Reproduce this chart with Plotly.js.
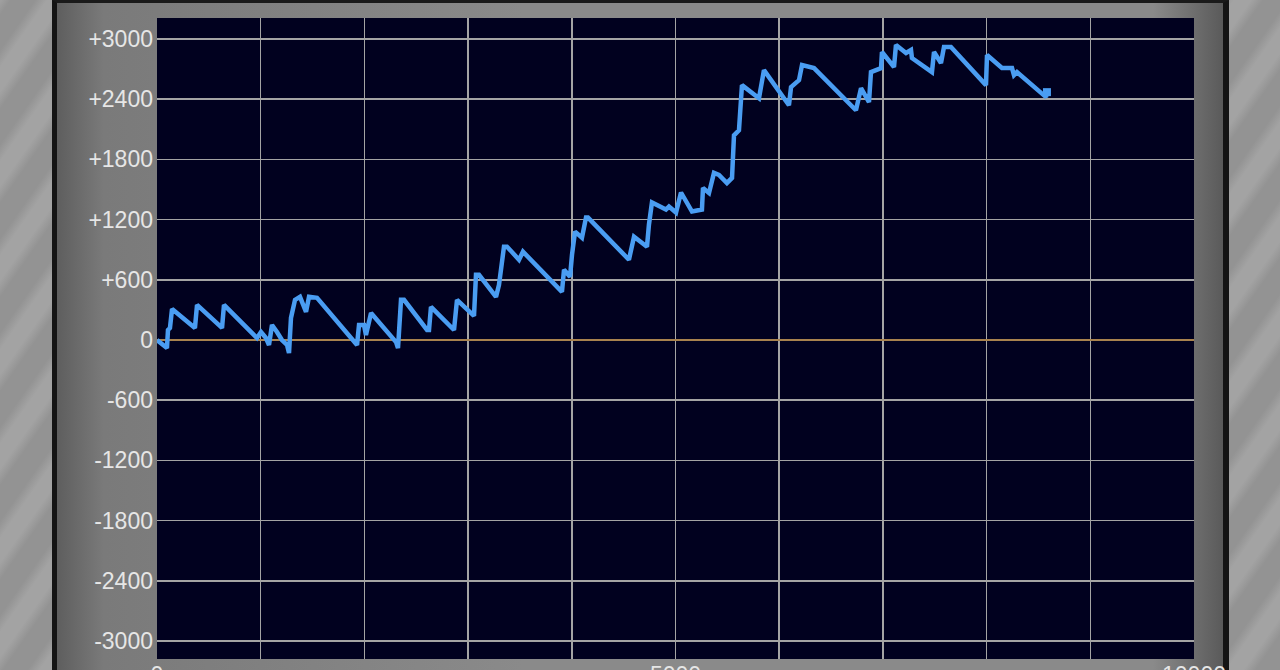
<!DOCTYPE html>
<html>
<head>
<meta charset="utf-8">
<script src="https://cdn.plot.ly/plotly-3.0.1.min.js"></script>
<style>
  html, body { margin:0; padding:0; width:1280px; height:670px; overflow:hidden; }
  body {
    background: repeating-linear-gradient(-55deg, #939393 0px, #939393 20px, #a3a3a3 30px, #a3a3a3 44px, #939393 54px);
    position: relative;
  }
  #panel {
    position:absolute; left:52px; top:0; width:1166px; height:700px;
    border-left:5px solid #141414; border-right:6px solid #141414; border-top:3px solid #1a1a1a;
    background: linear-gradient(to right, #5e5e5e 0%, #7a7a7a 4%, #8a8a8a 40%, #8a8a8a 94%, #5a5a5a 100%);
  }
  #chart { position:absolute; left:0; top:0; width:1280px; height:670px; }
</style>
</head>
<body>
<div id="panel"></div>
<div id="chart"></div>
<script>
// games played (x) vs. medal difference (y)
const games = [0, 96, 106, 125, 145, 366, 386, 627, 646, 964, 1003, 1051, 1080, 1109, 1157, 1205, 1254, 1273, 1292, 1331, 1379, 1437, 1466, 1543,
  1929, 1948, 1996, 2015, 2064, 2305, 2324, 2353, 2382, 2604, 2623, 2642, 2864, 2893, 3057, 3076, 3105, 3269, 3298, 3317, 3346, 3375, 3491, 3529,
  3905, 3925, 3983, 4002, 4031, 4098, 4137, 4156, 4551, 4600, 4725, 4744, 4773, 4908, 4937, 5005, 5053, 5159, 5255, 5265,
  5323, 5371, 5419, 5496, 5545, 5564, 5612, 5641, 5805, 5853, 6094, 6114, 6191, 6220, 6336, 6740, 6789, 6866, 6885, 6982, 6991,
  7107, 7126, 7223, 7271, 7280, 7473, 7493, 7560, 7589, 7656, 7994, 8004, 8148, 8245, 8264, 8293, 8573, 8582];
const diff = [0, -80, 100, 120, 310, 120, 350, 120, 350, 20, 80, 20, -50, 150, 80, 0, -50, -130, 220, 400, 430, 280, 430, 420,
  -50, 150, 150, 50, 270, -20, -80, 400, 400, 100, 100, 330, 100, 400, 240, 650, 650, 430, 550, 700, 930, 930, 800, 880,
  480, 700, 630, 850, 1080, 1020, 1220, 1220, 800, 1030, 930, 1150, 1370, 1300, 1330, 1270, 1470, 1280, 1300, 1515,
  1465, 1665, 1645, 1565, 1615, 2040, 2090, 2540, 2410, 2690, 2340, 2520, 2590, 2740, 2710, 2290, 2510, 2370, 2670, 2710, 2870,
  2720, 2940, 2860, 2890, 2810, 2670, 2870, 2760, 2920, 2920, 2540, 2840, 2710, 2710, 2640, 2670, 2420, 2470];

const yTickVals = [3000, 2400, 1800, 1200, 600, 0, -600, -1200, -1800, -2400, -3000];
const yTickText = ['+3000', '+2400', '+1800', '+1200', '+600', '0', '-600', '-1200', '-1800', '-2400', '-3000'];
const xTickVals = [0, 1000, 2000, 3000, 4000, 5000, 6000, 7000, 8000, 9000, 10000];
const xTickText = ['0', '', '', '', '', '5000', '', '', '', '', '10000'];

const lineColor = '#4a9df2';
const trace = {
  x: games, y: diff, type: 'scatter', mode: 'lines',
  line: { color: lineColor, width: 4.5, simplify: false },
  hoverinfo: 'skip'
};
const last = games.length - 1;
const endMark = {
  x: [games[last]], y: [diff[last]], type: 'scatter', mode: 'markers',
  marker: { color: lineColor, size: 8, symbol: 'square', line: { width: 0 } },
  hoverinfo: 'skip'
};

const tickFont = { family: 'Liberation Sans, Arial, sans-serif', size: 23, color: '#e6e6e6' };

const layout = {
  width: 1280, height: 670,
  margin: { l: 157, r: 86, t: 18, b: 11, pad: 0 },
  paper_bgcolor: 'rgba(0,0,0,0)',
  plot_bgcolor: '#01011f',
  showlegend: false,
  xaxis: {
    range: [0, 10000], tickmode: 'array', tickvals: xTickVals, ticktext: xTickText,
    showgrid: true, gridcolor: '#a4a4a4', gridwidth: 1.5, zeroline: false, showline: false,
    ticks: '', tickfont: tickFont, fixedrange: true
  },
  yaxis: {
    range: [-3179, 3209], tickmode: 'array', tickvals: yTickVals, ticktext: yTickText,
    showgrid: true, gridcolor: '#a4a4a4', gridwidth: 1.5,
    zeroline: true, zerolinecolor: '#a8824e', zerolinewidth: 2.5, showline: false,
    ticks: '', ticklabelstandoff: 3, tickfont: tickFont, fixedrange: true
  }
};

Plotly.newPlot('chart', [trace, endMark], layout, { displayModeBar: false, staticPlot: true });
</script>
</body>
</html>
